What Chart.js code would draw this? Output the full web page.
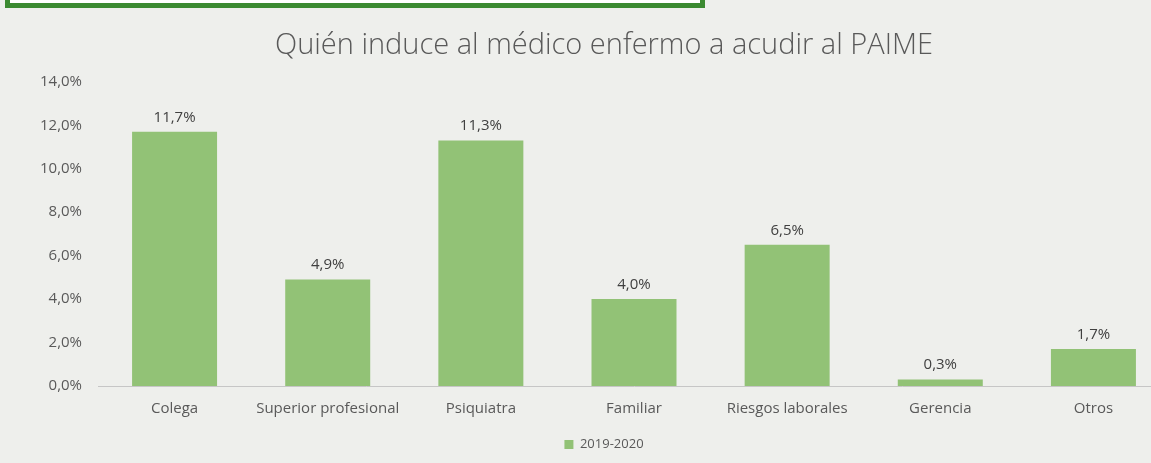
<!DOCTYPE html>
<html>
<head>
<meta charset="utf-8">
<script src="https://cdn.jsdelivr.net/npm/chart.js@4"></script>
<style>
  html, body { margin: 0; padding: 0; }
  body { width: 1151px; height: 463px; overflow: hidden; position: relative; background: #eeefec; }
  #box { position: absolute; left: 5px; top: -5px; width: 690px; height: 8px; background: #fff; border: 5px solid #3b8a31; border-top: none; }
  #graph { position: absolute; left: 0; top: 0; }
</style>
</head>
<body>
<div id="box"></div>
<canvas id="graph" width="1175" height="463"></canvas>
<script>
const categories = ['Colega', 'Superior profesional', 'Psiquiatra', 'Familiar', 'Riesgos laborales', 'Gerencia', 'Otros'];
const values = [11.7, 4.9, 11.3, 4.0, 6.5, 0.3, 1.7];
const seriesName = '2019-2020';
const yTicks = [0, 2, 4, 6, 8, 10, 12, 14];

const pct = v => v.toFixed(1).replace('.', ',') + '%';

// value labels above the bars
const barLabels = {
  id: 'barLabels',
  afterDatasetsDraw(chart) {
    const ctx = chart.ctx;
    ctx.save();
    ctx.font = '15px "Open Sans"';
    ctx.fillStyle = '#404040';
    ctx.textAlign = 'center';
    ctx.textBaseline = 'bottom';
    chart.getDatasetMeta(0).data.forEach((bar, i) => {
      ctx.fillText(pct(values[i]), bar.x, bar.y - 7);
    });
    ctx.restore();
  }
};

let canvas = document.querySelector('#graph').getContext('2d');

new Chart(canvas, {
  type: 'bar',
  data: {
    labels: categories,
    datasets: [{
      label: seriesName,
      data: values,
      backgroundColor: '#92c276',
      barPercentage: 0.555,
      categoryPercentage: 1
    }]
  },
  options: {
    responsive: false,
    animation: false,
    layout: { padding: { left: 38, right: 5, top: 28, bottom: 2 } },
    plugins: {
      title: {
        display: true,
        text: 'Quién induce al médico enfermo a acudir al PAIME',
        color: '#595959',
        font: { family: 'Open Sans', size: 29, weight: '300' },
        padding: { top: 0, bottom: 19 }
      },
      legend: {
        position: 'bottom',
        labels: {
          color: '#595959',
          font: { family: 'Open Sans', size: 13 },
          boxWidth: 9,
          boxHeight: 9,
          padding: 6
        }
      },
      tooltip: { enabled: false }
    },
    scales: {
      x: {
        grid: { display: false, drawTicks: false },
        border: { color: '#c6c6c6', width: 1 },
        ticks: { color: '#595959', font: { family: 'Open Sans', size: 15 }, padding: 14, maxRotation: 0 }
      },
      y: {
        min: 0,
        max: 14,
        afterFit(scale) { scale.width = 60; },
        afterBuildTicks(scale) { scale.ticks = yTicks.map(v => ({ value: v })); },
        grid: { display: false, drawTicks: false },
        border: { display: false },
        ticks: { color: '#595959', font: { family: 'Open Sans', size: 15 }, padding: 16, callback: v => pct(v) }
      }
    }
  },
  plugins: [barLabels]
});
</script>
</body>
</html>
